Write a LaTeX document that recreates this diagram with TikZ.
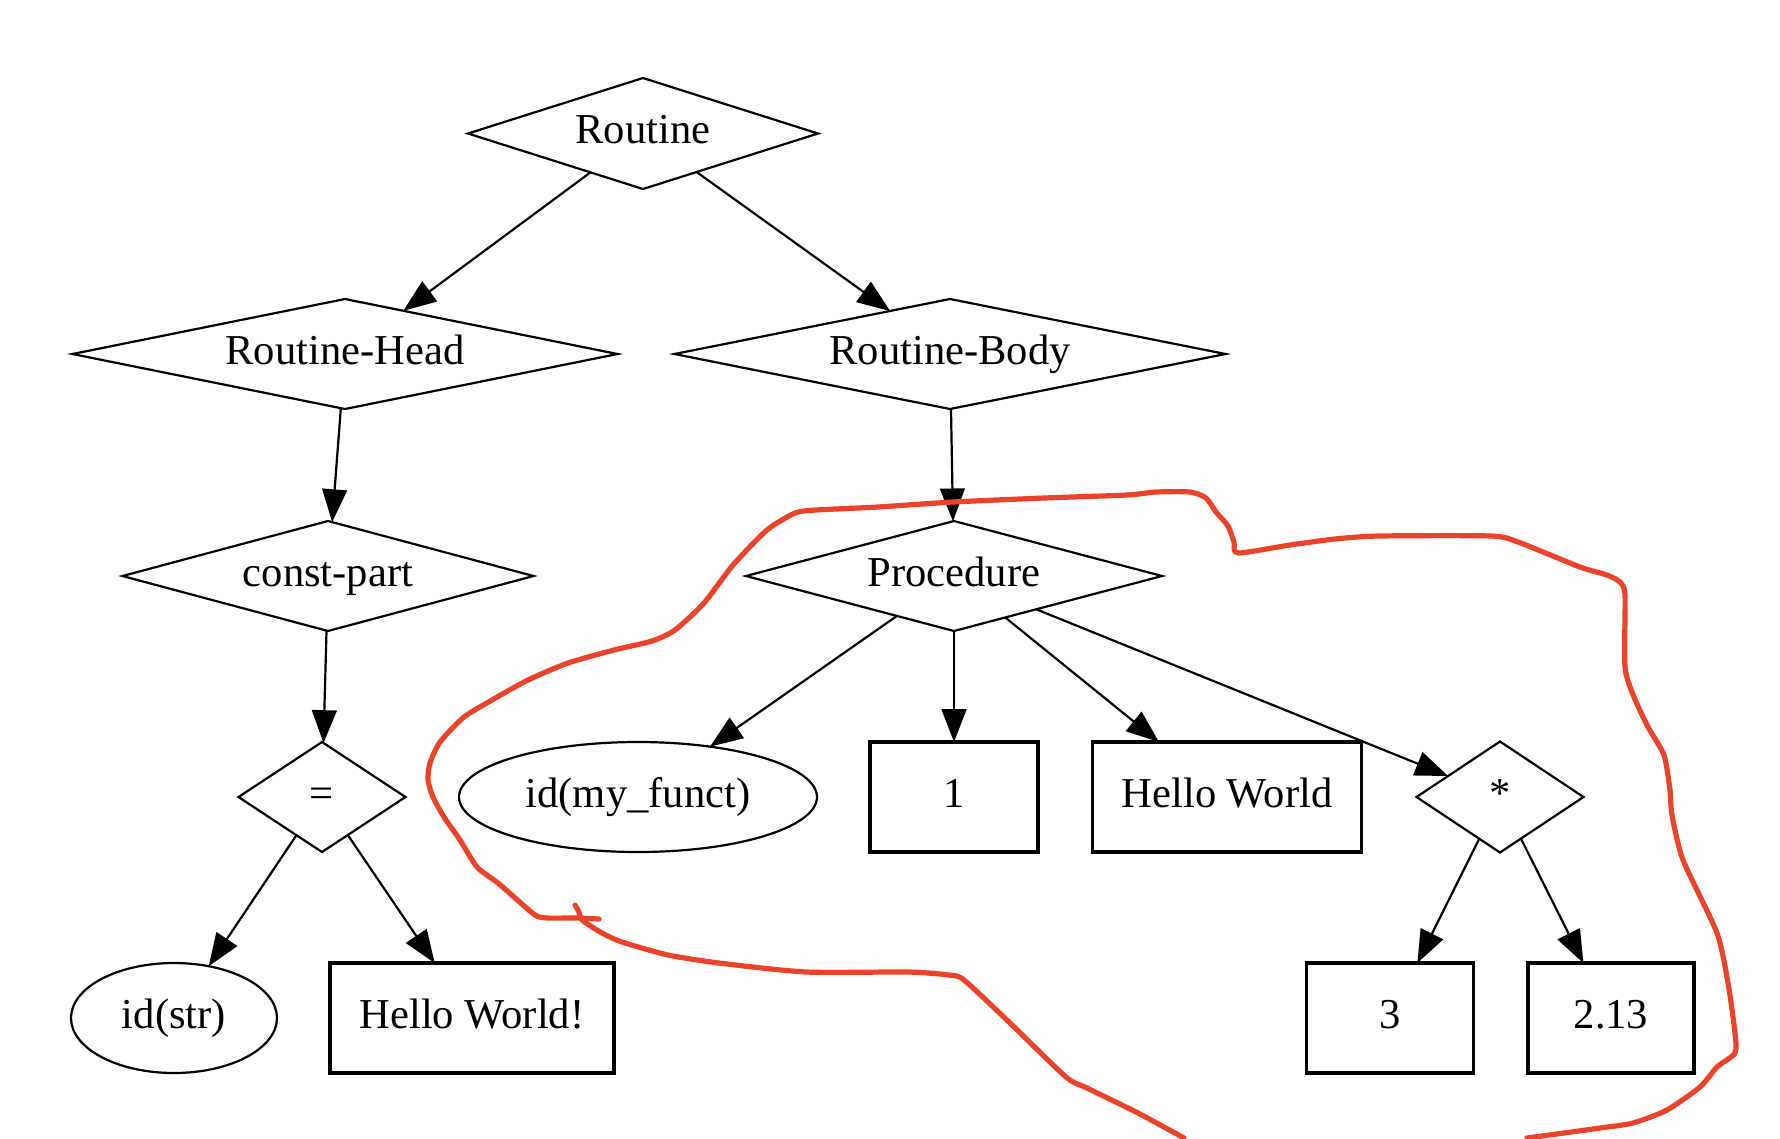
\documentclass[tikz,border=0pt]{standalone}
\usepackage{fontspec}
\setmainfont{Liberation Serif}
\usetikzlibrary{shapes.geometric,arrows.meta}
\definecolor{pen}{RGB}{234,67,41}
\begin{document}
\begin{tikzpicture}[x=0.25pt,y=-0.25pt,
  every node/.style={font=\fontsize{10.65}{12}\selectfont, inner sep=0pt, outer sep=0pt, text height=0.7em, text depth=0.2em},
  dia/.style={diamond, draw, line width=0.55pt, aspect=4},
  sdia/.style={diamond, draw, line width=0.55pt, aspect=1.5},
  ell/.style={ellipse, draw, line width=0.55pt},
  box/.style={rectangle, draw, line width=0.9pt},
  edge/.style={-{Triangle[length=8.2pt,width=6.2pt]}, line width=0.55pt},
  redpen/.style={draw=pen, line width=1.3pt, line cap=round, line join=round}]
\useasboundingbox (0,0) rectangle (1780,1138);

\node[dia, minimum width=87.5pt, minimum height=27.75pt] (rt) at (643,133.5) {Routine};
\node[dia, minimum width=136.25pt, minimum height=27.5pt] (rh) at (345,354) {Routine-Head};
\node[dia, minimum width=137.75pt, minimum height=27.5pt] (rb) at (950,354) {Routine-Body};
\node[dia, minimum width=102.75pt, minimum height=27.5pt] (cp) at (328,576) {const-part};
\node[dia, minimum width=104pt, minimum height=27.5pt] (pr) at (954,576) {Procedure};
\node[sdia, minimum width=41.75pt, minimum height=27.5pt] (eq) at (322,797) {=};
\node[sdia, minimum width=41.75pt, minimum height=27.75pt] (st) at (1500,797) {*};
\node[ell, minimum width=51.5pt, minimum height=27.5pt] (ids) at (174,1018) {id(str)};
\node[box, minimum width=71pt, minimum height=27.5pt] (hwx) at (472,1018) {Hello World!};
\node[ell, minimum width=89.5pt, minimum height=27.5pt] (idm) at (638,797) {id(my\_funct)};
\node[box, minimum width=42pt, minimum height=27.5pt] (one) at (954,797) {1};
\node[box, minimum width=67.25pt, minimum height=27.5pt] (hw) at (1227,797) {Hello World};
\node[box, minimum width=41.75pt, minimum height=27.5pt] (three) at (1390,1018) {3};
\node[box, minimum width=41.5pt, minimum height=27.5pt] (two) at (1611,1018) {2.13};

\draw[edge] (rt) -- (rh);
\draw[edge] (rt) -- (rb);
\draw[edge] (rh) -- (cp);
\draw[edge] (rb) -- (pr);
\draw[edge] (cp) -- (eq);
\draw[edge] (eq) -- (ids);
\draw[edge] (eq) -- (hwx);
\draw[edge] (pr) -- (idm);
\draw[edge] (pr) -- (one);
\draw[edge] (pr) -- (hw);
\draw[edge] (pr) -- (st);
\draw[edge] (st) -- (three);
\draw[edge] (st) -- (two);

\draw[redpen] plot[smooth, tension=0.4] coordinates {
(599,919) (576,918) (547,918) (535,915) (514,897) (498,883) (477,867) (460,840)
(444,817) (433,797) (428,780) (430,763) (440,742) (464,717) (492,700) (528,680)
(568,663) (614,650) (652,641) (675,630) (704,603) (733,565) (767,530) (795,513)
(816,510) (878,507) (953,502) (1044,498) (1127,495) (1156,492) (1190,492) (1206,498)
(1216,512) (1228,526) (1234,542) (1238,553) (1290,545) (1335,539) (1379,536) (1491,536)
(1518,542) (1580,567) (1607,575) (1620,582) (1625,595) (1625,667) (1634,697) (1648,727)
(1664,755) (1670,790) (1672,815) (1683,860) (1717,933) (1728,983) (1735,1033) (1735,1053)
(1717,1067) (1700,1087) (1667,1110) (1633,1123) (1600,1128) (1527,1138)};

\draw[redpen] plot[smooth, tension=0.4] coordinates {
(575,905) (579,912) (582,920) (602,933) (622,942) (668,955) (719,963) (806,972)
(908,972) (949,975) (964,980) (1010,1023) (1066,1077) (1087,1088) (1138,1113) (1184,1138)};
\end{tikzpicture}
\end{document}
